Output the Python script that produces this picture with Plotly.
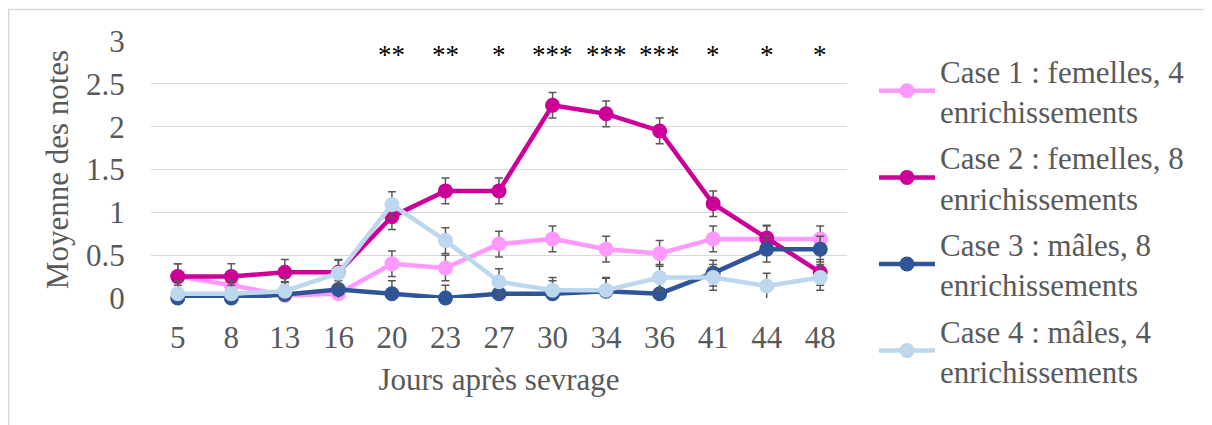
import plotly.graph_objects as go

days = ["5", "8", "13", "16", "20", "23", "27", "30", "34", "36", "41", "44", "48"]
case1 = [0.25, 0.15, 0.03, 0.05, 0.40, 0.35, 0.63, 0.69, 0.57, 0.52, 0.69, 0.69, 0.69]
case2 = [0.25, 0.25, 0.30, 0.30, 0.95, 1.25, 1.25, 2.25, 2.15, 1.95, 1.10, 0.70, 0.30]
case3 = [0.00, 0.00, 0.04, 0.10, 0.05, 0.00, 0.05, 0.05, 0.08, 0.05, 0.29, 0.57, 0.57]
case4 = [0.05, 0.05, 0.08, 0.29, 1.09, 0.67, 0.19, 0.09, 0.09, 0.24, 0.24, 0.14, 0.24]
err1 = [0.15] * 13
err2 = [0.15] * 13
err3 = [0.15] * 13
err4 = [0.15] * 13
names = ["Case 1 : femelles, 4<br>enrichissements",
         "Case 2 : femelles, 8<br>enrichissements",
         "Case 3 : mâles, 8<br>enrichissements",
         "Case 4 : mâles, 4<br>enrichissements"]
signif = ["", "", "", "", "**", "**", "*", "***", "***", "***", "*", "*", "*"]

colors = ["#FF99FF", "#CC0099", "#2F5597", "#BDD7EE"]
FONT = "Liberation Serif, Times New Roman, serif"
GRAY = "#595959"

# page has an 8px body margin; work in figure pixels
W, H = 1204, 417
PL, PR, PT, PB = 143, 839, 33, 290   # plot area in figure pixels
L, R = PL, W - PR
pw = PR - PL

fig = go.Figure()
for i, (vals, err) in enumerate(zip([case1, case2, case3, case4], [err1, err2, err3, err4])):
    fig.add_trace(go.Scatter(
        x=days, y=vals, name=names[i], mode="lines+markers",
        legendgroup=f"g{i}",
        line=dict(color=colors[i], width=4.5),
        marker=dict(color=colors[i], size=15),
        error_y=dict(type="data", array=err, visible=True, color=GRAY, thickness=1.5, width=4),
        cliponaxis=False,
    ))

for i, s in enumerate(signif):
    if s:
        fig.add_annotation(x=i, y=2.835, text=s, showarrow=False,
                           font=dict(family=FONT, size=27, color="black"),
                           xanchor="center", yanchor="middle")

# chart area outline (top and left visible)
fig.add_shape(type="rect", xref="paper", yref="paper",
              x0=(0.75 - PL) / pw, x1=(W + 20 - PL) / pw,
              y0=-0.1, y1=1 - 1.5 / H,
              line=dict(color="#D9D9D9", width=1.5), layer="below")

fig.update_layout(
    width=W, height=H,
    margin=dict(l=L, r=R, t=0, b=0, autoexpand=False),
    paper_bgcolor="white", plot_bgcolor="white",
    font=dict(family=FONT, size=31, color=GRAY),
    showlegend=True,
    legend=dict(xref="container", yref="paper", x=866 / W, y=1 - 36 / H,
                xanchor="left", yanchor="top",
                font=dict(family=FONT, size=31, color=GRAY),
                itemwidth=56, tracegroupgap=3, bgcolor="rgba(0,0,0,0)"),
)
fig.update_xaxes(type="category", range=[-0.5, len(days) - 0.5],
                 showgrid=False, showline=False, zeroline=False,
                 ticks="outside", ticklen=12, tickcolor="rgba(0,0,0,0)",
                 tickfont=dict(family=FONT, size=31, color=GRAY),
                 title=dict(text="Jours après sevrage", font=dict(family=FONT, size=31, color=GRAY), standoff=14))
fig.update_yaxes(range=[0, 3], dtick=0.5, domain=[(H - PB) / H, (H - PT) / H],
                 showgrid=True, gridcolor="#D9D9D9", gridwidth=1.3,
                 zeroline=False, showline=False,
                 ticks="outside", ticklen=19, tickcolor="rgba(0,0,0,0)",
                 tickfont=dict(family=FONT, size=31, color=GRAY),
                 title=dict(text="Moyenne des notes", font=dict(family=FONT, size=31, color=GRAY), standoff=8))

fig.write_html("out.html")
